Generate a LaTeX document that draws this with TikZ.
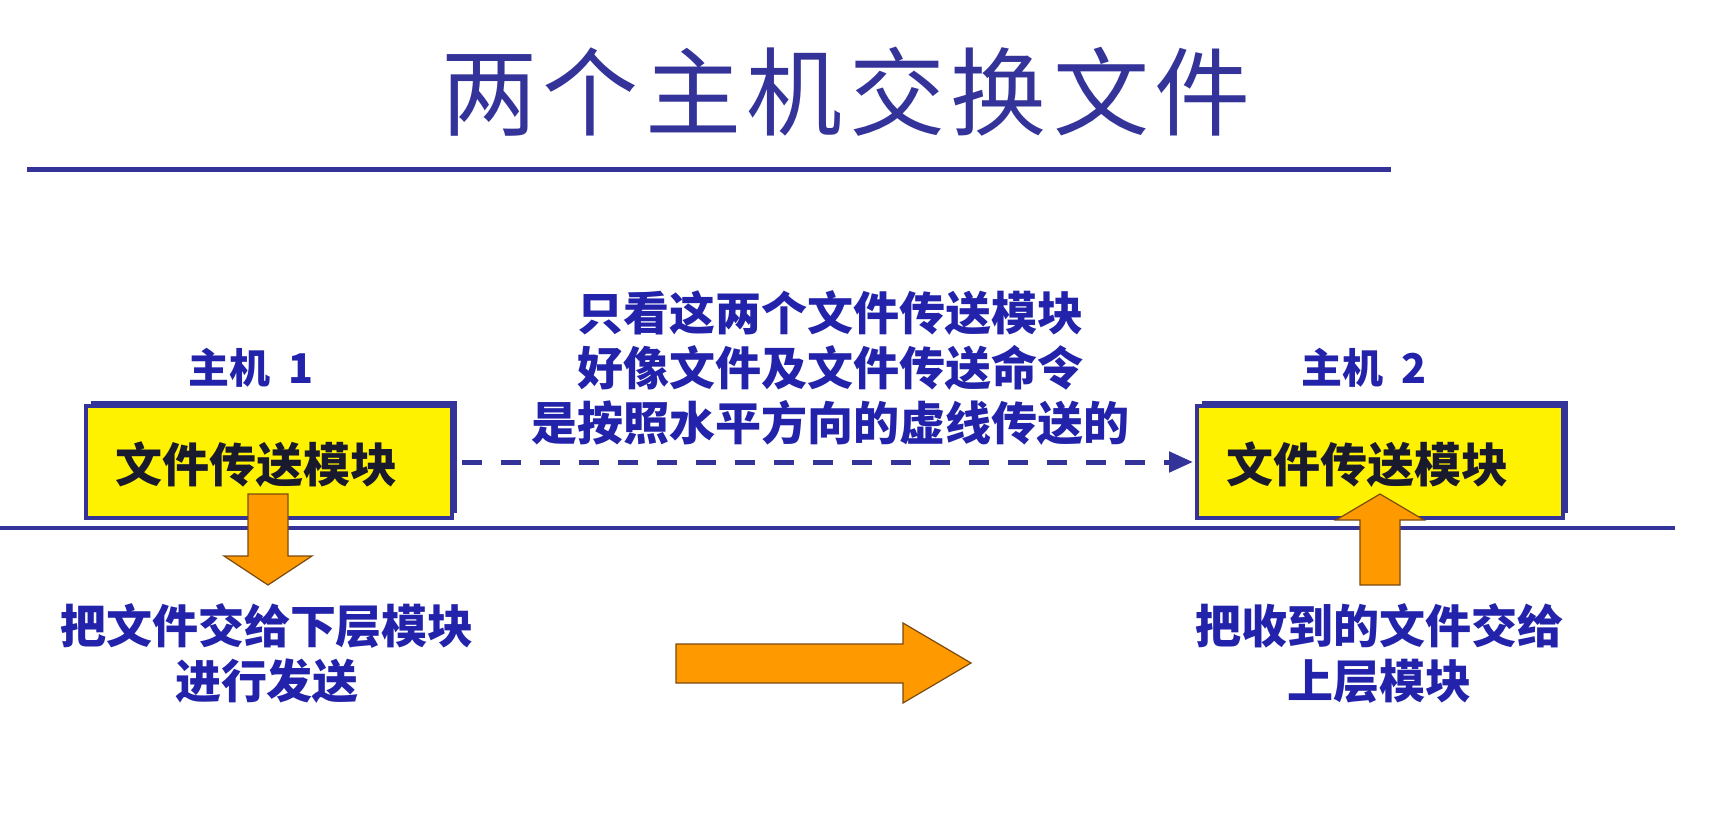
\documentclass[tikz,border=0pt]{standalone}
\usepackage{fontspec}
\usetikzlibrary{arrows.meta,shadows}
\newfontfamily\cjk{Noto Sans CJK SC}
\definecolor{navy}{HTML}{333399}
\definecolor{lblue}{HTML}{2222AA}
\definecolor{ora}{HTML}{FF9900}
\definecolor{oraline}{HTML}{7A4A10}
\definecolor{boxtxt}{HTML}{1A1A2E}
\newcommand\ttlsp{\hspace{6pt}}
\begin{document}
\begin{tikzpicture}[x=1pt,y=-1pt,
  modbox/.style={draw=navy, line width=4pt, fill=yellow, minimum width=366pt, minimum height=112pt, inner sep=0pt,
    drop shadow={shadow xshift=5pt, shadow yshift=5pt, fill=navy, opacity=1}},
  boxtext/.style={text=boxtxt, font=\cjk\bfseries\fontsize{47}{56}\selectfont, inner sep=0pt},
  hostlabel/.style={text=lblue, font=\cjk\bfseries\fontsize{41}{48}\selectfont, inner sep=0pt},
  note/.style={text=lblue, font=\cjk\bfseries\fontsize{46}{55}\selectfont, align=center, inner sep=0pt},
  dasharrow/.style={draw=navy, line width=5pt, dash pattern=on 20pt off 19pt, -{Triangle[length=24pt,width=20pt]}},
  blockarrow/.style={fill=ora, draw=oraline, line width=1.2pt, line join=miter},
  rule/.style={draw=navy, line width=#1}
]
\useasboundingbox[fill=white] (0,0) rectangle (1717,813);

% title
\node[text=navy, font=\cjk\fontsize{96}{104}\selectfont, inner sep=0pt] (title) at (846,92)
  {两\ttlsp 个\ttlsp 主\ttlsp 机\ttlsp 交\ttlsp 换\ttlsp 文\ttlsp 件};
\coordinate (tl1) at (27,170);
\coordinate (tl2) at (1391,170);
\draw[rule=5pt] (tl1) -- (tl2);

% ground line
\coordinate (g1) at (0,528);
\coordinate (g2) at (1675,528);
\draw[rule=3.5pt] (g1) -- (g2);

% boxes
\node[modbox] (box1) at (269,462) {};
\node[modbox] (box2) at (1380,462) {};
\node[boxtext] (t1) at (256,465) {文件传送模块};
\node[boxtext] (t2) at (1367,465) {文件传送模块};

% host labels
\node[hostlabel] (h1) at (251,368) {主机\hspace{0.45em}1};
\node[hostlabel] (h2) at (1364,368) {主机\hspace{0.45em}2};

% dashed arrow
\draw[dasharrow, shorten <=8pt, shorten >=2pt] (box1.east) -- (box2.west);

% middle note
\node[note] (mid) at (830,368) {只看这两个文件传送模块\\好像文件及文件传送命令\\是按照水平方向的虚线传送的};

% bottom notes
\node[note] (lab1) at (267,653) {把文件交给下层模块\\进行发送};
\node[note] (lab2) at (1379,653) {把收到的文件交给\\上层模块};

% orange block arrows
\draw[blockarrow] (248,494) -- (288,494) -- (288,556) -- (312,556) -- (268,585) -- (224,556) -- (248,556) -- cycle;
\draw[blockarrow] (1360,585) -- (1400,585) -- (1400,520) -- (1424,520) -- (1380,494) -- (1336,520) -- (1360,520) -- cycle;
\draw[blockarrow] (676,644) -- (903,644) -- (903,623) -- (971,663) -- (903,703) -- (903,683) -- (676,683) -- cycle;
\end{tikzpicture}
\end{document}
